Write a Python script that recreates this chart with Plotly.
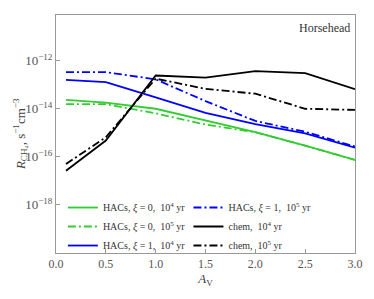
import plotly.graph_objects as go

av = [0.1, 0.5, 1.0, 1.5, 2.0, 2.5, 3.0]

# log10 of R_CH4 values
hacs_xi0_1e4 = [-13.63, -13.74, -14.00, -14.48, -14.98, -15.54, -16.14]
hacs_xi0_1e5 = [-13.81, -13.81, -14.19, -14.66, -14.98, -15.54, -16.14]
hacs_xi1_1e4 = [-12.79, -12.89, -13.52, -14.17, -14.64, -15.03, -15.63]
hacs_xi1_1e5 = [-12.47, -12.47, -12.77, -13.68, -14.51, -14.96, -15.58]
chem_1e4 = [-16.59, -15.33, -12.61, -12.70, -12.43, -12.51, -13.18]
chem_1e5 = [-16.31, -15.19, -12.74, -13.17, -13.37, -14.00, -14.05]

y_tickvals = [1e-18, 1e-16, 1e-14, 1e-12]
y_ticktext = ["10<sup>−18</sup>", "10<sup>−16</sup>", "10<sup>−14</sup>", "10<sup>−12</sup>"]
x_tickvals = [0, 0.5, 1, 1.5, 2, 2.5, 3]

names = [
    "HACs, <i>ξ</i> = 0,  10<sup>4</sup> yr",
    "HACs, <i>ξ</i> = 0,  10<sup>5</sup> yr",
    "HACs, <i>ξ</i> = 1,  10<sup>4</sup> yr",
    "HACs, <i>ξ</i> = 1,  10<sup>5</sup> yr",
    "chem,  10<sup>4</sup> yr",
    "chem,  10<sup>5</sup> yr",
]
series = [hacs_xi0_1e4, hacs_xi0_1e5, hacs_xi1_1e4, hacs_xi1_1e5, chem_1e4, chem_1e5]
colors = ["#33cc33", "#33cc33", "#0000ff", "#0000ff", "#000000", "#000000"]
dashes = ["solid", "8px,3px,2px,3px", "solid", "8px,3px,2px,3px", "solid", "8px,3px,2px,3px"]
legends = ["legend", "legend", "legend", "legend2", "legend2", "legend2"]

FONT = "Liberation Serif"
fig = go.Figure()
for n, s, c, d, lg in zip(names, series, colors, dashes, legends):
    fig.add_trace(go.Scatter(
        x=av, y=[10 ** v for v in s], mode="lines", name=n,
        line=dict(color=c, width=1.8, dash=d), legend=lg,
    ))

axis_common = dict(
    showline=True, linecolor="#999999", linewidth=1, mirror=True,
    ticks="inside", ticklen=4, tickcolor="#999999", showgrid=False, zeroline=False,
)
fig.update_xaxes(range=[0, 3], tickvals=x_tickvals, tickformat=".1f",
                 tickfont=dict(family=FONT, size=12, color="#555555"),
                 title=dict(text="<i>A</i><sub>V</sub>", font=dict(family=FONT, size=13, color="#444444"), standoff=0),
                 **axis_common)
fig.update_yaxes(type="log", range=[-20.03, -10.08], tickvals=y_tickvals, ticktext=y_ticktext,
                 tickfont=dict(family=FONT, size=13, color="#555555"),
                 **axis_common)

leg_common = dict(font=dict(family=FONT, size=10, color="#333333"), bgcolor="rgba(0,0,0,0)",
                  yanchor="top", tracegroupgap=0, itemwidth=30)
fig.update_layout(
    width=374, height=299,
    margin=dict(l=56, r=19, t=15, b=46),
    plot_bgcolor="white", paper_bgcolor="white",
    legend=dict(x=0.023, y=0.252, **leg_common),
    legend2=dict(x=0.443, y=0.252, **leg_common),
    annotations=[
        dict(text="Horsehead", xref="paper", yref="paper", x=0.99, y=0.985,
             xanchor="right", yanchor="top", showarrow=False,
             font=dict(family=FONT, size=12, color="#333333")),
        dict(text="<i>R</i><sub>CH₄</sub>, s<sup>−1</sup>cm<sup>−3</sup>", xref="paper", yref="paper",
             x=-0.12, y=0.5, xanchor="center", yanchor="middle", textangle=-90, showarrow=False,
             font=dict(family=FONT, size=13, color="#444444")),
    ],
)
fig.write_html("out.html", config={"displayModeBar": False},
               post_script="document.body.style.margin='0';")
